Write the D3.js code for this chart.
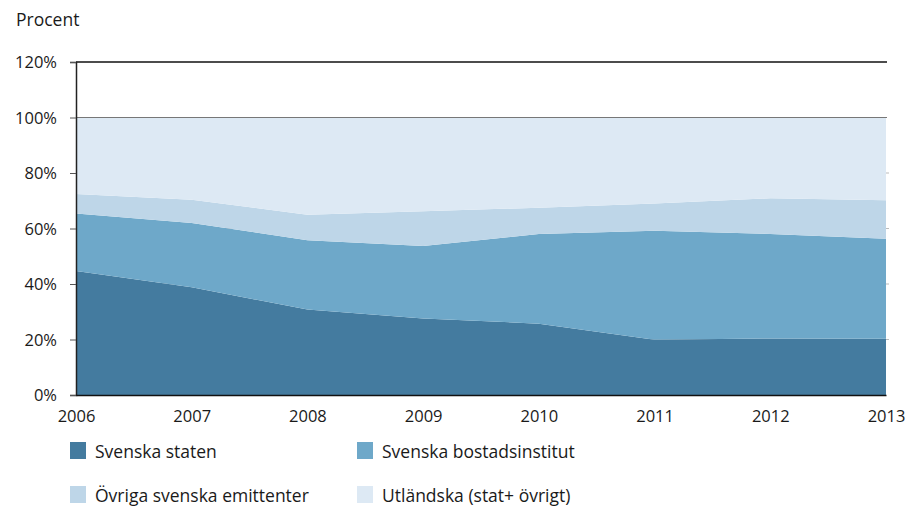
<!DOCTYPE html>
<html lang="sv">
<head>
<meta charset="UTF-8"/>
<title>Procent</title>
<script src="https://d3js.org/d3.v7.min.js"></script>
<style type="text/css">
    body { margin: 0; background: #fff; }
    text { font-family: "Open Sans", "Noto Sans", sans-serif; fill: #1a1a1a; }
    .tick text { font-size: 15px; }
</style>
</head>
<body>
<div id="chart"></div>
<script type="text/javascript">

    // data, share of total in percent
    var years = [2006, 2007, 2008, 2009, 2010, 2011, 2012, 2013];
    var seriesNames = ["Svenska staten", "Svenska bostadsinstitut", "Övriga svenska emittenter", "Utländska (stat+ övrigt)"];
    var staten      = [44.7, 38.8, 30.8, 27.6, 25.7, 19.9, 20.4, 20.3];
    var bostad      = [20.7, 23.2, 25.0, 26.1, 32.3, 39.3, 37.6, 36.0];
    var ovriga      = [7.0, 8.4, 9.2, 12.5, 9.5, 9.8, 12.9, 13.9];
    var utlandska   = [27.6, 29.6, 35.0, 33.8, 32.5, 31.0, 29.1, 29.8];
    var yTicks = [0, 20, 40, 60, 80, 100, 120];
    var colors = ["#447b9f", "#6ea8c9", "#bed6e8", "#dde9f4"];

    var W = 907, H = 506;
    var margin = {top: 62, right: 21, bottom: 111, left: 76},
        width = W - margin.left - margin.right,
        height = H - margin.top - margin.bottom;

    var table = years.map(function(y, i) {
        return {year: y, s0: staten[i], s1: bostad[i], s2: ovriga[i], s3: utlandska[i]};
    });

    var svg = d3.select("#chart").append("svg")
        .attr("width", W)
        .attr("height", H);

    var g = svg.append("g")
        .attr("transform", "translate(" + margin.left + "," + margin.top + ")");

    var x = d3.scaleLinear().domain([2006, 2013]).range([0, width]);
    var y = d3.scaleLinear().domain([0, 120]).range([height, 0]);

    // faint grid lines, mostly hidden below the areas
    g.selectAll("line.grid")
        .data([20, 40, 60, 80])
        .enter().append("line")
        .attr("class", "grid")
        .attr("x1", 0).attr("x2", width + 3)
        .attr("y1", function(d) { return y(d); })
        .attr("y2", function(d) { return y(d); })
        .style("stroke", "#bbbbbb");

    var stack = d3.stack().keys(["s0", "s1", "s2", "s3"]);
    var layers = stack(table);

    var area = d3.area()
        .x(function(d) { return x(d.data.year); })
        .y0(function(d) { return y(d[0]); })
        .y1(function(d) { return y(d[1]); });

    g.selectAll("path.layer")
        .data(layers)
        .enter().append("path")
        .attr("class", "layer")
        .attr("d", area)
        .style("fill", function(d, i) { return colors[i]; });

    // 100% line and top border
    g.append("line")
        .attr("x1", 0).attr("x2", width + 1)
        .attr("y1", y(100)).attr("y2", y(100))
        .style("stroke", "#777");
    g.append("line")
        .attr("x1", 0).attr("x2", width + 1)
        .attr("y1", y(120)).attr("y2", y(120))
        .style("stroke", "#111")
        .style("stroke-width", 1.3);

    // y axis
    var yAxis = g.append("g")
        .call(d3.axisLeft(y).tickValues(yTicks).tickSize(6).tickPadding(13)
            .tickFormat(function(d) { return d + "%"; }));
    yAxis.select(".domain").style("stroke", "#222").style("stroke-width", 1.5);
    yAxis.selectAll(".tick line").style("stroke", "#555");
    yAxis.selectAll(".tick text").style("font-size", "16.5px").attr("dy", "0.35em");

    // x axis
    var xAxis = g.append("g")
        .attr("transform", "translate(0," + height + ")")
        .call(d3.axisBottom(x).tickValues(years).tickSize(0).tickPadding(15)
            .tickFormat(d3.format("d")));
    xAxis.select(".domain").style("stroke", "#111").style("stroke-width", 1.5);
    xAxis.selectAll(".tick text").style("font-size", "16.5px");

    // title
    svg.append("text")
        .attr("x", 16).attr("y", 26)
        .style("font-size", "17.5px")
        .text("Procent");

    // legend
    var legendPos = [[70, 442], [357, 442], [70, 486], [357, 486]];
    var legend = svg.selectAll("g.legend")
        .data(seriesNames)
        .enter().append("g")
        .attr("class", "legend")
        .attr("transform", function(d, i) { return "translate(" + legendPos[i][0] + "," + legendPos[i][1] + ")"; });
    legend.append("rect")
        .attr("width", 16).attr("height", 17)
        .style("fill", function(d, i) { return colors[i]; });
    legend.append("text")
        .attr("x", 25).attr("y", 16)
        .style("font-size", "17.5px")
        .text(function(d) { return d; });

</script>
</body>
</html>
